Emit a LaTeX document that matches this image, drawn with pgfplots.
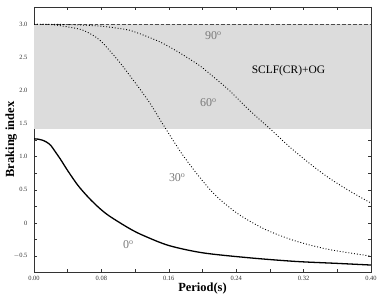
\documentclass[border=0pt]{standalone}
\usepackage{pgfplots}
\pgfplotsset{compat=1.18}
\usepackage{fontspec}
\setmainfont{Liberation Serif}
\definecolor{band}{HTML}{DCDCDC}
\definecolor{lab}{HTML}{7A7A7A}
\begin{document}
\begin{tikzpicture}
\useasboundingbox (-34bp,-27bp) rectangle (348bp,272bp);
\begin{axis}[
  at={(0,0)}, anchor=south west,
  scale only axis, width=337bp, height=265bp,
  xmin=0, xmax=0.40, ymin=-0.74, ymax=3.26,
  axis line style={line width=0.6pt, black!80},
  xtick={0,0.08,0.16,0.24,0.32,0.40},
  xticklabels={0.00,0.08,0.16,0.24,0.32,0.40},
  minor xtick={0.04,0.12,0.20,0.28,0.36},
  ytick={-0.5,0,0.5,1.0,1.5,2.0,2.5,3.0},
  yticklabels={$-$0.5,0,0.5,1.0,1.5,2.0,2.5,3.0},
  minor ytick={-0.25,0.25,0.75,1.25,1.75,2.25,2.75},
  tick align=inside,
  major tick length=3bp, minor tick length=3bp,
  tick style={line width=0.5pt, black!80},
  tick label style={font=\fontsize{6.5}{7}\selectfont, black!80},
  xticklabel style={yshift=-1bp},
  yticklabel style={xshift=-3bp},
  xlabel={\textbf{Period(s)}},
  ylabel={\textbf{Braking index}},
  xlabel style={yshift=5bp, font=\fontsize{12.5}{14}\selectfont},
  every axis y label/.style={at={(axis description cs:-0.068,0.5)}, rotate=90, anchor=center, font=\fontsize{12.5}{14}\selectfont},
  clip=true,
]
\addplot[draw=none, fill=band] coordinates {(0,1.42) (0.4,1.42) (0.4,3.0) (0,3.0)} -- cycle;
% 90 deg
\addplot[black!70, line width=0.6pt, dash pattern=on 3.5bp off 2bp] coordinates {(0,3.0) (0.4,3.0)};
% 60 deg
\addplot[black, line width=0.9pt, dotted, smooth, tension=0.5] coordinates {
(0,3.0) (0.04,2.995) (0.08,2.97) (0.1135,2.91) (0.125,2.86) (0.15,2.73) (0.17,2.59)
(0.184,2.48) (0.196,2.38) (0.205,2.29) (0.231,2.01) (0.255,1.71) (0.282,1.40)
(0.305,1.13) (0.33,0.87) (0.35,0.68) (0.375,0.48) (0.40,0.30)};
% 30 deg
\addplot[black, line width=0.9pt, dotted, smooth, tension=0.5] coordinates {
(0,3.0) (0.02,2.995) (0.035,2.97) (0.058,2.91) (0.078,2.76) (0.0994,2.46)
(0.117,2.17) (0.137,1.82) (0.152,1.51) (0.169,1.17) (0.178,1.00) (0.196,0.70)
(0.216,0.41) (0.243,0.13) (0.275,-0.10) (0.31,-0.27) (0.35,-0.40) (0.40,-0.50)};
% 0 deg
\addplot[black, line width=1.3pt, smooth, tension=0.5] coordinates {
(0,1.27) (0.005,1.265) (0.010,1.25) (0.015,1.22) (0.020,1.17) (0.025,1.08) (0.031,0.97)
(0.040,0.79) (0.052,0.57) (0.065,0.38) (0.078,0.22) (0.09,0.10) (0.1135,-0.085)
(0.13,-0.19) (0.16,-0.34) (0.20,-0.45) (0.255,-0.525) (0.31,-0.58) (0.36,-0.61) (0.40,-0.635)};
\node[lab, font=\fontsize{12}{14}\selectfont] at (axis cs:0.213,2.83) {90$^{\mathrm{o}}$};
\node[lab, font=\fontsize{12}{14}\selectfont] at (axis cs:0.207,1.82) {60$^{\mathrm{o}}$};
\node[lab, font=\fontsize{12}{14}\selectfont] at (axis cs:0.170,0.68) {30$^{\mathrm{o}}$};
\node[lab, font=\fontsize{12}{14}\selectfont] at (axis cs:0.112,-0.33) {0$^{\mathrm{o}}$};
\node[black, font=\fontsize{11.5}{13}\selectfont] at (axis cs:0.302,2.30) {SCLF(CR)+OG};
\end{axis}
\end{tikzpicture}
\end{document}
